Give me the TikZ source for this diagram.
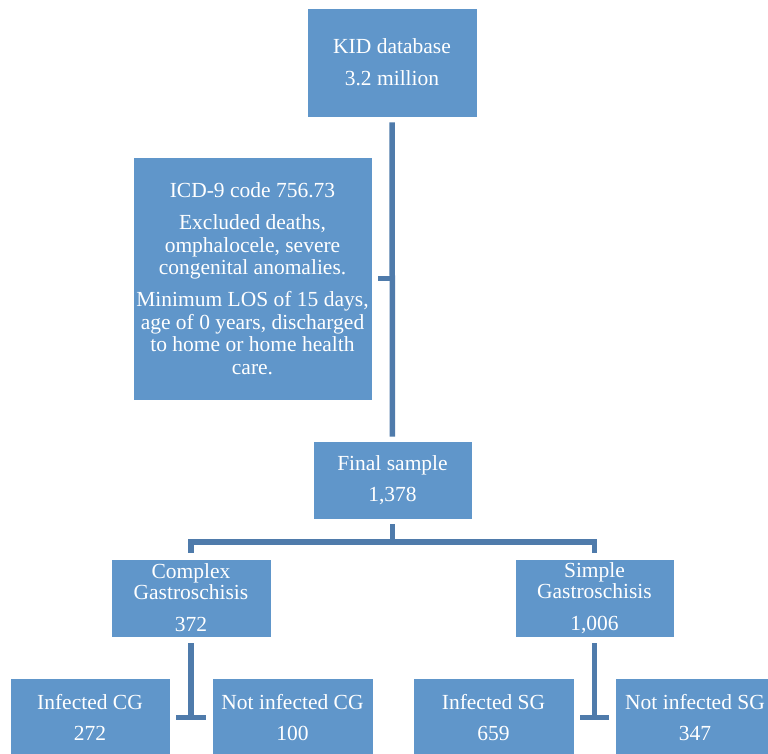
\documentclass[tikz,border=0pt]{standalone}
\usepackage{fontspec}
\setmainfont{Liberation Serif}
\definecolor{boxfill}{HTML}{6096CA}
\definecolor{linecol}{HTML}{4F7BAB}
\tikzset{
  box/.style={rectangle, fill=boxfill, draw=white, line width=0.8pt, text=white, align=center, inner sep=0pt,
    font=\fontsize{21.5}{22.5}\selectfont},
  conn/.style={draw=linecol, line width=5.5pt, line cap=butt},
}
\begin{document}
\begin{tikzpicture}[x=1pt,y=-1pt]
\useasboundingbox (0,0) rectangle (768,754);
\node[box, minimum width=170pt, minimum height=109pt] (kid) at (392,62.5) {KID database\\[9.5pt]3.2 million};
\node[box, minimum width=239pt, minimum height=243pt] (icd) at (252.5,278.5) {ICD-9 code 756.73\\[9.5pt]Excluded deaths,\\omphalocele, severe\\congenital anomalies.\\[9.5pt]Minimum LOS of 15 days,\\age of 0 years, discharged\\to home or home health\\care.};
\node[box, minimum width=159pt, minimum height=78pt] (final) at (392.5,480) {Final sample\\[8pt]1,378};
\node[box, minimum width=160pt, minimum height=78pt, font=\fontsize{21.5}{21}\selectfont] (complex) at (191,598) {Complex\\Gastroschisis\\[11pt]372};
\node[box, minimum width=159pt, minimum height=78pt, font=\fontsize{21.5}{21}\selectfont] (simple) at (594.5,598) {Simple\\Gastroschisis\\[11pt]1,006};
\node[box, minimum width=160pt, minimum height=79pt] (infcg) at (90,717.5) {Infected CG\\[8.5pt]272};
\node[box, minimum width=161pt, minimum height=79pt] (notcg) at (292.5,717.5) {Not infected CG\\[8.5pt]100};
\node[box, minimum width=161pt, minimum height=79pt] (infsg) at (493.5,717.5) {Infected SG\\[8.5pt]659};
\node[box, minimum width=160pt, minimum height=79pt] (notsg) at (695,717.5) {Not infected SG\\[8.5pt]347};
\coordinate (jn) at (392.5,542);
\draw[conn, shorten <=5pt, shorten >=4pt] (kid.south) -- (final.north);
\draw[conn, shorten <=6pt] (icd.east) -- (icd.east -| kid.south);
\draw[conn, shorten <=5pt] (final.south) -- (jn);
\draw[conn, shorten <=6pt, shorten >=6pt] (complex.north) |- (jn) -| (simple.north);
\draw[conn, shorten <=6pt] (complex.south) -- (complex.south |- infcg.east);
\draw[conn, shorten <=6pt, shorten >=6pt] (infcg.east) -- (notcg.west);
\draw[conn, shorten <=6pt] (simple.south) -- (simple.south |- infsg.east);
\draw[conn, shorten <=6pt, shorten >=6pt] (infsg.east) -- (notsg.west);
\end{tikzpicture}
\end{document}
